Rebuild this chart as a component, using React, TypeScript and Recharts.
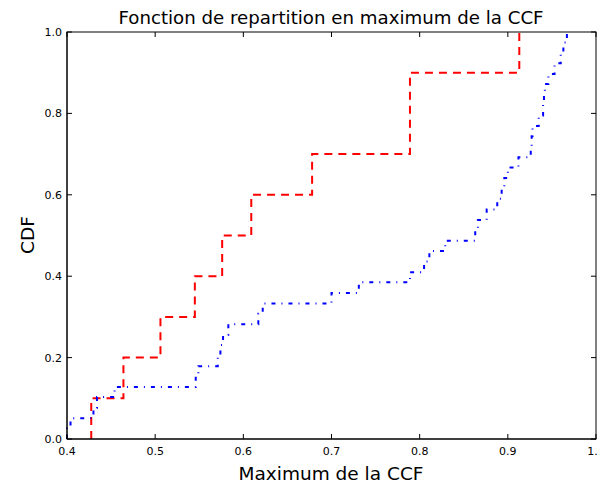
import React from "react";
import { LineChart, Line, XAxis, YAxis } from "recharts";

// red: CDF of the max CCF (first set)
const redX = [0.4275, 0.4275, 0.464, 0.506, 0.545, 0.576, 0.609, 0.678, 0.789, 0.913];
const redCdf = [0, 0.1, 0.2, 0.3, 0.4, 0.5, 0.6, 0.7, 0.9, 1.0];

// blue: CDF of the max CCF (second set)
const blueX = [
  0.4, 0.4, 0.404, 0.43, 0.434, 0.454, 0.546, 0.549, 0.571, 0.574, 0.577, 0.583,
  0.617, 0.622, 0.7, 0.731, 0.789, 0.805, 0.811, 0.829, 0.863, 0.866, 0.876,
  0.888, 0.893, 0.896, 0.9, 0.912, 0.926, 0.927, 0.928, 0.935, 0.94, 0.941,
  0.942, 0.946, 0.953, 0.96, 0.963, 0.967,
];
const blueCdf = [
  0, 0.026, 0.051, 0.077, 0.103, 0.128, 0.154, 0.179, 0.205, 0.231, 0.256,
  0.282, 0.308, 0.333, 0.359, 0.385, 0.41, 0.436, 0.462, 0.487, 0.513, 0.538,
  0.564, 0.59, 0.615, 0.641, 0.667, 0.692, 0.718, 0.744, 0.769, 0.795, 0.821,
  0.846, 0.872, 0.897, 0.923, 0.949, 0.974, 1.0,
];

const xTicks = [0.4, 0.5, 0.6, 0.7, 0.8, 0.9, 1.0];
const yTicks = [0, 0.2, 0.4, 0.6, 0.8, 1.0];

const title = "Fonction de repartition en maximum de la CCF";
const xLabel = "Maximum de la CCF";
const yLabel = "CDF";

const redData = redX.map((x, i) => ({ x, y: redCdf[i] }));
const blueData = blueX.map((x, i) => ({ x, y: blueCdf[i] }));

const W = 597;
const H = 476;
// plot box, follows from the margins and axis sizes below
const PL = 59;
const PT = 24;
const PW = 529;
const PH = 407;
const font = "DejaVu Sans";
const tickStyle = { fontSize: 11, fill: "#000", fontFamily: font };
const fmt = (v: number) => v.toFixed(1);

// top / right frame ticks (the library would not draw these edges)
const tx = (v: number) => PL + ((v - 0.4) / 0.6) * PW;
const ty = (v: number) => PT + PH - v * PH;

export default function App() {
  return (
    <div style={{ position: "relative", width: W, height: H }}>
      <LineChart
        width={W}
        height={H}
        margin={{ top: PT, right: W - PL - PW, bottom: 0, left: 0 }}
      >
        <XAxis
          dataKey="x"
          type="number"
          domain={[0.4, 1.0]}
          ticks={xTicks}
          tickFormatter={fmt}
          allowDuplicatedCategory={false}
          height={H - PT - PH}
          tickSize={-5}
          tickMargin={13}
          stroke="#000"
          tick={tickStyle}
        />
        <YAxis
          type="number"
          domain={[0, 1]}
          ticks={yTicks}
          tickFormatter={fmt}
          width={PL}
          tickSize={-5}
          tickMargin={10}
          stroke="#000"
          tick={tickStyle}
        />
        <Line
          data={redData}
          dataKey="y"
          type="stepAfter"
          stroke="#ff0000"
          strokeWidth={2}
          strokeDasharray="8 6"
          dot={false}
          isAnimationActive={false}
        />
        <Line
          data={blueData}
          dataKey="y"
          type="stepAfter"
          stroke="#0000ff"
          strokeWidth={2}
          strokeDasharray="4 6 1 6"
          dot={false}
          isAnimationActive={false}
        />
      </LineChart>
      <svg
        width={W}
        height={H}
        style={{ position: "absolute", left: 0, top: 0, pointerEvents: "none" }}
      >
        <rect x={PL} y={PT} width={PW} height={PH} fill="none" stroke="#000" strokeWidth={1} />
        {xTicks.map((v) => (
          <line key={"t" + v} x1={tx(v)} x2={tx(v)} y1={PT} y2={PT + 5} stroke="#000" />
        ))}
        {yTicks.map((v) => (
          <line key={"r" + v} x1={PL + PW} x2={PL + PW - 5} y1={ty(v)} y2={ty(v)} stroke="#000" />
        ))}
        <text x={323} y={16} textAnchor="middle" fontSize={18.2} fontFamily={font}>
          {title}
        </text>
        <text x={323} y={472} textAnchor="middle" fontSize={18.5} fontFamily={font}>
          {xLabel}
        </text>
        <text
          x={26}
          y={227}
          textAnchor="middle"
          fontSize={18.5}
          fontFamily={font}
          transform="rotate(-90 26 227)"
        >
          {yLabel}
        </text>
      </svg>
    </div>
  );
}
